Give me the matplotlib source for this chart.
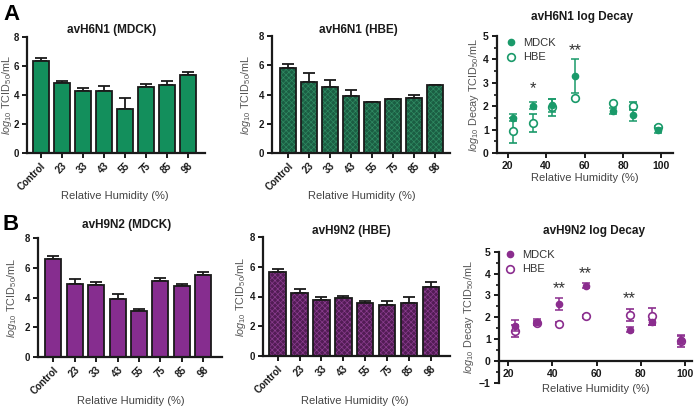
import matplotlib
matplotlib.use("Agg")
import matplotlib.pyplot as plt
from matplotlib.lines import Line2D
import numpy as np

plt.rcParams['font.family'] = ['Liberation Sans', 'DejaVu Sans']
plt.rcParams['hatch.linewidth'] = 0.5
plt.rcParams['mathtext.fontset'] = 'custom'
plt.rcParams['mathtext.rm'] = 'Liberation Sans'
plt.rcParams['mathtext.it'] = 'Liberation Sans:italic'

categories = ["Control", "23", "33", "43", "55", "75", "85", "98"]

h6_mdck = [6.33, 4.80, 4.30, 4.27, 3.02, 4.53, 4.71, 5.39]
h6_mdck_err = [0.23, 0.18, 0.16, 0.35, 0.75, 0.20, 0.27, 0.16]
h6_hbe = [5.83, 4.87, 4.53, 3.89, 3.47, 3.70, 3.79, 4.69]
h6_hbe_err = [0.27, 0.62, 0.45, 0.41, 0.0, 0.0, 0.19, 0.0]

h9_mdck = [6.61, 4.93, 4.87, 3.92, 3.07, 5.11, 4.78, 5.54]
h9_mdck_err = [0.18, 0.29, 0.17, 0.32, 0.18, 0.20, 0.15, 0.18]
h9_hbe = [5.62, 4.22, 3.78, 3.87, 3.55, 3.44, 3.55, 4.63]
h9_hbe_err = [0.20, 0.27, 0.18, 0.17, 0.16, 0.29, 0.41, 0.34]

rh = [23, 33, 43, 55, 75, 85, 98]
h6_dec_mdck = [1.51, 2.02, 2.03, 3.29, 1.81, 1.61, 0.97]
h6_dec_mdck_err = [0.14, 0.15, 0.28, 0.72, 0.13, 0.24, 0.10]
h6_dec_hbe = [0.95, 1.28, 1.95, 2.36, 2.12, 2.01, 1.12]
h6_dec_hbe_err = [0.53, 0.37, 0.35, 0.0, 0.0, 0.15, 0.05]
h6_stars = [(33, 2.76, "*"), (55, 4.36, "**")]

h9_dec_mdck = [1.62, 1.79, 2.60, 3.45, 1.44, 1.77, 0.98]
h9_dec_mdck_err = [0.25, 0.12, 0.27, 0.10, 0.10, 0.10, 0.20]
h9_dec_hbe = [1.36, 1.74, 1.71, 2.05, 2.12, 2.05, 0.91]
h9_dec_hbe_err = [0.27, 0.08, 0.08, 0.08, 0.27, 0.38, 0.26]
h9_stars = [(43, 3.30, "**"), (55, 4.02, "**"), (75, 2.84, "**")]

W, H = 696, 409
fig = plt.figure(figsize=(W / 100, H / 100), dpi=100)


def ax_px(l, t, r, b):
    return fig.add_axes([l / W, 1 - b / H, (r - l) / W, (b - t) / H])


def ftext(x, y, s, **kw):
    return fig.text(x / W, 1 - y / H, s, **kw)


def style(ax, ls, pad):
    for s in ['top', 'right']:
        ax.spines[s].set_visible(False)
    for s in ['left', 'bottom']:
        ax.spines[s].set_linewidth(1.6)
        ax.spines[s].set_color('#1a1a1a')
    ax.tick_params(width=1.4, length=3.5, colors='#1a1a1a', labelsize=ls, pad=pad)
    for lab in ax.get_xticklabels() + ax.get_yticklabels():
        lab.set_fontweight('bold')


ylab_bar = r"$\mathit{log}_{10}$ TCID$_{50}$/mL"
ylab_dec = r"$\mathit{log}_{10}$ Decay TCID$_{50}$/mL"
xlab = "Relative Humidity (%)"


def labels(title, tpos, xlpos, ylx, ylab, box):
    ftext(tpos[0], tpos[1], title, fontsize=8.5, fontweight='bold', ha='center', va='center',
          color='#1a1a1a')
    ftext(xlpos[0], xlpos[1], xlab, fontsize=8, ha='center', va='center', color='#444444')
    ftext(ylx, (box[1] + box[3]) / 2, ylab, fontsize=7.8, ha='center', va='center',
          rotation=90, color='#555555')


def bar_panel(box, vals, errs, color, xlim, hatch=None, hatchcolor=None):
    ax = ax_px(*box)
    x = np.arange(len(categories))
    if hatch:
        ax.bar(x, vals, width=0.75, color=color, edgecolor=hatchcolor, hatch=hatch, linewidth=0, zorder=2)
        ax.bar(x, vals, width=0.75, color='none', edgecolor='#1a1a1a', linewidth=1.3, zorder=3)
    else:
        ax.bar(x, vals, width=0.75, color=color, edgecolor='#1a1a1a', linewidth=1.3, zorder=2)
    e = np.array(errs)
    ax.errorbar(x, vals, yerr=[np.zeros_like(e), e], fmt='none', ecolor='#1a1a1a',
                elinewidth=1.3, capsize=4, capthick=1.3, zorder=1)
    ax.set_xlim(*xlim)
    ax.set_ylim(0, 8)
    ax.set_yticks([0, 2, 4, 6, 8])
    ax.set_xticks(x)
    ax.set_xticklabels(categories, rotation=45, ha='right', rotation_mode='anchor')
    style(ax, 7, 2)
    return ax


def decay_panel(box, mdck, mdck_err, hbe, hbe_err, color, xlim, ylim, stars, legpos):
    ax = ax_px(*box)
    ax.errorbar(rh, mdck, yerr=mdck_err, fmt='o', color=color, ms=4.5, elinewidth=1.1,
                capsize=3, capthick=1.1, zorder=3)
    ax.errorbar(rh, hbe, yerr=hbe_err, fmt='o', color=color, mfc='white', mec=color, mew=1.2,
                ms=5.5, elinewidth=1.1, capsize=3, capthick=1.1, zorder=2)
    for sx, sy, st in stars:
        ax.text(sx, sy, st, ha='center', va='center', fontsize=12, color='#333333')
    ax.set_xlim(*xlim)
    ax.set_ylim(*ylim)
    ax.set_xticks([20, 40, 60, 80, 100])
    ax.set_yticks(np.arange(ylim[0], ylim[1] + 0.1, 1))
    ax.set_yticks(np.arange(ylim[0], ylim[1] + 0.1, 0.5), minor=True)
    ax.tick_params(which='minor', length=2.5, width=1.1)
    if ylim[0] < 0:
        ax.spines['bottom'].set_position(('data', 0))
    style(ax, 7.5, 2.5)
    handles = [Line2D([], [], ls='none', marker='o', color=color, ms=4.5),
               Line2D([], [], ls='none', marker='o', mfc='white', mec=color, mew=1.2, ms=5.5)]
    leg = ax.legend(handles, ['MDCK', 'HBE'], loc='center left',
                    bbox_to_anchor=((legpos[0] - 8 - box[0]) / (box[2] - box[0]),
                                    1 - (legpos[1] - box[1]) / (box[3] - box[1])),
                    frameon=False, fontsize=8, handletextpad=0.5, borderaxespad=0,
                    borderpad=0, labelspacing=0.45, handlelength=1.2)
    for t in leg.get_texts():
        t.set_color('#333333')
    return ax


green = '#138f5c'
green_dark = '#1b5e43'
purple = '#862d8f'
purple_dark = '#521c55'

b = (27, 36.7, 205, 153.3)
bar_panel(b, h6_mdck, h6_mdck_err, green, (-0.65, 7.82))
labels("avH6N1 (MDCK)", (112, 30), (115, 196), 7.5, ylab_bar, b)

b = (272, 36.0, 450, 153.3)
bar_panel(b, h6_hbe, h6_hbe_err, green_dark, (-0.76, 7.7), hatch='xxxxxx', hatchcolor='#2f8a62')
labels("avH6N1 (HBE)", (358, 30), (362, 196), 246, ylab_bar, b)

b = (497, 36.0, 673, 153.0)
decay_panel(b, h6_dec_mdck, h6_dec_mdck_err, h6_dec_hbe, h6_dec_hbe_err,
            '#1a9a6a', (14.5, 106), (0, 5), h6_stars, (512, 50))
labels("avH6N1 log Decay", (582, 17), (585, 178), 474, ylab_dec, b)

b = (38, 238, 222, 357)
bar_panel(b, h9_mdck, h9_mdck_err, purple, (-0.71, 7.87))
labels("avH9N2 (MDCK)", (127, 225), (131, 401), 12, ylab_bar, b)

b = (263, 237, 450, 356)
bar_panel(b, h9_hbe, h9_hbe_err, purple_dark, (-0.67, 7.87), hatch='xxxxxx', hatchcolor='#8a3c8e')
labels("avH9N2 (HBE)", (351, 231), (355, 401), 241, ylab_bar, b)

b = (499, 251.7, 692, 383)
decay_panel(b, h9_dec_mdck, h9_dec_mdck_err, h9_dec_hbe, h9_dec_hbe_err,
            '#8b2d8e', (15.8, 103.2), (-1, 5), h9_stars, (511, 262))
labels("avH9N2 log Decay", (594, 231), (596, 389), 469, ylab_dec, b)

ftext(3, 4, "A", fontsize=16, fontweight='bold', va='top', ha='left')
ftext(3, 214, "B", fontsize=16, fontweight='bold', va='top', ha='left')

fig.savefig("out.png", dpi=100)
